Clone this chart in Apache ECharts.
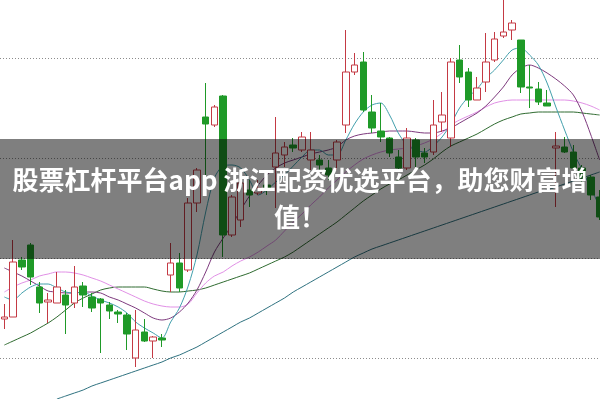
<!DOCTYPE html>
<html>
<head>
<meta charset="utf-8">
<script src="https://cdn.jsdelivr.net/npm/echarts@6/dist/echarts.min.js"></script>
<style>
html,body{margin:0;padding:0;background:#fff;}
#main{width:600px;height:399px;}
</style>
</head>
<body>
<div id="main"></div>
<script>
// categories (trading days)
const days = Array.from({length: 69}, (_, i) => 'D' + (i + 1));

// candle values: open / close / low / high
const opens  = [139,141,198,213,171,156,155,163,155,172,161,159,153,146,143,100,126,117,120,183,195,188,255,341,333,362,223,238,268,265,273,291,303,313,308,298,298,290,298,333,386,396,346,327,320,301,290,318,305,306,336,320,398,386,358,376,398,422,428,418,371,369,355,310,311,306,290,281,261];
const closes = [141,196,191,181,155,158,171,153,171,163,150,155,147,144,124,128,117,121,118,195,170,255,288,334,351,223,261,275,263,270,268,305,311,310,321,308,293,283,316,386,393,348,330,321,305,290,320,301,301,333,343,396,381,358,370,396,419,426,435,371,370,356,352,312,306,290,280,263,241];
const lows   = [129,141,188,173,145,135,155,124,150,151,146,105,139,135,108,91,116,100,111,166,166,186,246,263,331,201,221,231,251,263,263,250,291,306,306,288,288,278,288,325,383,346,325,316,301,288,288,291,295,303,326,311,375,351,358,366,396,420,418,365,350,353,352,251,305,288,276,258,238];
const highs  = [154,218,201,215,176,165,186,168,192,176,165,160,156,148,145,148,139,122,124,215,205,260,290,375,353,363,263,281,278,278,283,341,316,320,326,326,303,298,318,428,405,406,363,355,321,308,330,320,310,358,366,400,413,390,381,425,426,458,438,418,393,376,368,326,321,313,293,283,268];

// moving average lines
const ma5  = [161,158,165,171,174,174,170,166,165,166,162,158,155,151,145,136,130,125,120,136,150,172,203,246,280,292,293,290,278,263,268,276,283,292,301,308,308,303,303,318,334,346,353,355,343,325,313,308,306,312,321,334,350,361,369,380,388,398,408,410,403,393,375,351,328,306,288,270,251];
const ma10 = [190,186,182,177,172,167,166,165,165,166,166,165,161,158,154,150,145,140,138,140,146,155,168,186,206,220,233,248,262,273,283,290,295,298,301,304,306,308,311,318,322,324,325,326,327,327,327,326,325,325,327,330,335,340,345,352,361,371,383,390,393,390,385,379,372,363,346,323,298];
const ma20 = [166,171,175,178,182,184,186,186,185,183,180,177,173,169,165,161,157,154,152,151,151,154,165,175,182,186,192,197,201,206,212,218,227,236,244,253,261,270,278,286,293,299,303,306,308,309,310,312,315,319,325,333,338,342,346,351,355,357,358,358,358,358,358,358,358,357,355,352,348];
const ma30 = [113,117,121,125,130,135,141,148,155,160,164,168,170,171,171,171,171,169,167,166,166,167,168,170,173,176,179,182,185,189,193,197,201,206,212,218,224,230,236,243,250,257,263,269,274,278,283,288,293,299,306,312,316,320,324,329,334,338,341,344,345,346,346,346,346,346,345,344,343];
const ma60 = [null,null,null,null,null,null,59,62,65,68,72,75,78,81,84,87,90,93,96,100,103,107,111,116,121,126,131,136,140,145,150,155,160,166,171,176,181,186,191,196,201,205,209,212,215,218,221,224,227,230,233,236,239,242,245,248,251,254,257,260,263,266,268,271,274,277,280,283,286];

// y ticks
const yMin = 100, yMax = 400, yStep = 100;

// banner text
const bannerText = '股票杠杆平台app 浙江配资优选平台，助您财富增\n值！';

const candleData = opens.map((o, i) => [o, closes[i], lows[i], highs[i]]);

const chart = echarts.init(document.getElementById('main'), null, {renderer: 'canvas'});

function maLine(name, data, color) {
  return {
    name: name, type: 'line', data: data, symbol: 'none', smooth: 0.3,
    lineStyle: {color: color, width: 1}, z: 2, silent: true, clip: false,
    connectNulls: false
  };
}

chart.setOption({
  animation: false,
  backgroundColor: '#ffffff',
  grid: {left: 0, width: 604, top: 58, height: 300, outerBoundsMode: 'none', containLabel: false},
  xAxis: {
    type: 'category', data: days, boundaryGap: true,
    axisLine: {show: false}, axisTick: {show: false}, axisLabel: {show: false},
    splitLine: {show: false}
  },
  yAxis: {
    type: 'value', min: yMin, max: yMax, interval: yStep, scale: false,
    axisLine: {show: false}, axisTick: {show: false}, axisLabel: {show: false},
    splitLine: {show: true, lineStyle: {color: '#8c8c8c', type: [1, 2], width: 1}}
  },
  series: [
    maLine('MA60', ma60, '#2f7280'),
    maLine('MA30', ma30, '#2f6b30'),
    maLine('MA20', ma20, '#e190e6'),
    maLine('MA10', ma10, '#7e3a7e'),
    maLine('MA5', ma5, '#43a0ad'),
    {
      name: 'K', type: 'candlestick', data: candleData, barWidth: 7, z: 3, clip: false,
      itemStyle: {
        color: '#ffffff', color0: '#1f9a28',
        borderColor: '#c43a44', borderColor0: '#1f9a28', borderWidth: 1
      }
    }
  ],
  graphic: [
    {type: 'rect', shape: {x: 0, y: 139, width: 600, height: 120},
     style: {fill: 'rgba(0,0,0,0.5)'}, z: 100, silent: true},
    {type: 'text', x: 300, y: 199, z: 101, silent: true,
     style: {text: bannerText, fill: '#ffffff',
       font: 'bold 26px "Noto Sans CJK SC", "Noto Sans", sans-serif',
       textAlign: 'center', textVerticalAlign: 'middle', lineHeight: 37}}
  ]
});
</script>
</body>
</html>
